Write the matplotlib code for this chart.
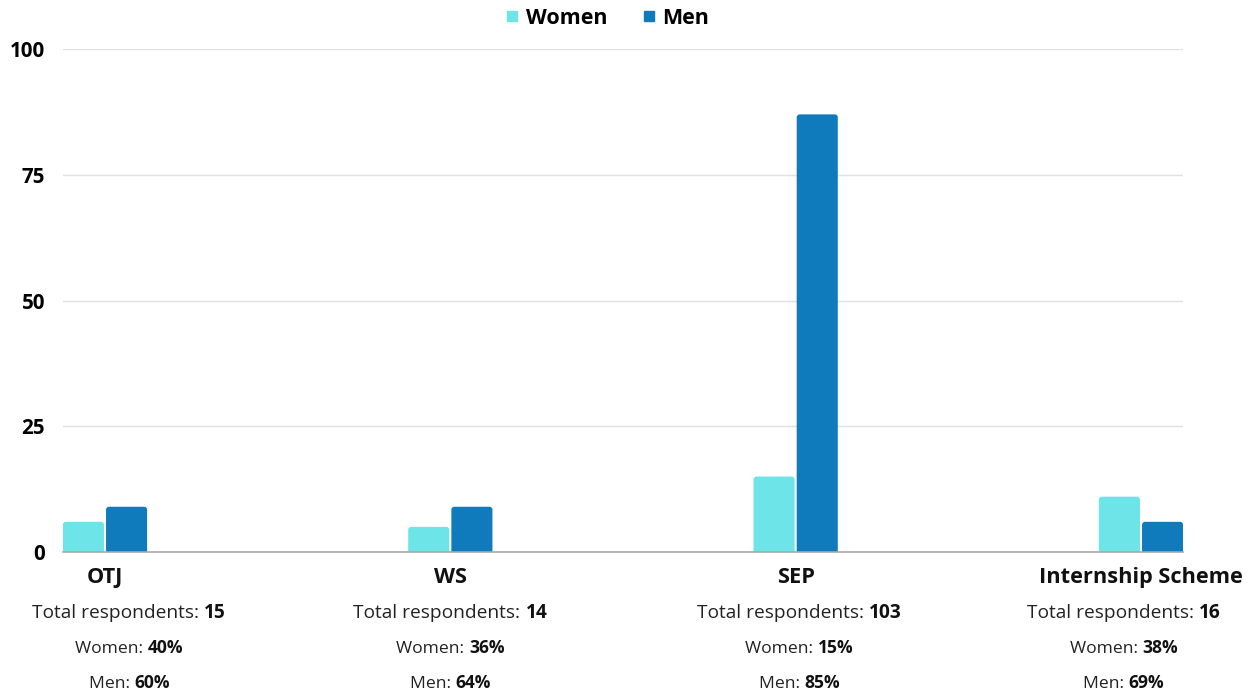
import numpy as np
import matplotlib
matplotlib.use("Agg")
import matplotlib.pyplot as plt
from matplotlib.lines import Line2D
from matplotlib.patches import FancyBboxPatch
from matplotlib.offsetbox import TextArea, HPacker, AnnotationBbox

plt.rcParams['font.family'] = ['Open Sans', 'DejaVu Sans']

# programme data
programmes = ['OTJ', 'WS', 'SEP', 'Internship Scheme']
women = [6, 5, 15, 11]
men = [9, 9, 87, 6]
total_respondents = ['15', '14', '103', '16']
women_pct = ['40%', '36%', '15%', '38%']
men_pct = ['60%', '64%', '85%', '69%']

c_women = '#6ce4e8'
c_men = '#0f7bbd'

fig = plt.figure(figsize=(12.53, 6.94), dpi=100)
ax = fig.add_axes([0.0503, 0.2046, 0.8938, 0.7248])

ax.set_xlim(-0.1215, 3.1215)
ax.set_ylim(0, 100)

x = np.arange(len(programmes))
w = 0.119
off = 0.0625

# px per data unit, used to keep the corner rounding circular
bbox = ax.get_position()
px_x = bbox.width * fig.get_figwidth() * fig.dpi / 3.243
px_y = bbox.height * fig.get_figheight() * fig.dpi / 100
radius = 3 / px_x
aspect = px_x / px_y


def rounded_bars(xs, heights, color):
    for xc, h in zip(xs, heights):
        # start a bit below zero so only the top corners show rounded
        p = FancyBboxPatch((xc - w / 2, -2), w, h + 2,
                           boxstyle=f"round,pad=0,rounding_size={radius}",
                           mutation_aspect=aspect, facecolor=color,
                           edgecolor='none', zorder=3)
        ax.add_patch(p)


rounded_bars(x - off, women, c_women)
rounded_bars(x + off, men, c_men)

ax.set_yticks([0, 25, 50, 75, 100])
ax.tick_params(axis='y', length=0, pad=13, labelsize=14.8)
for lbl in ax.get_yticklabels():
    lbl.set_fontweight('bold')
ax.set_xticks([])
ax.grid(axis='y', color='#e0e0e0', linewidth=1, zorder=0)
for s in ['top', 'right', 'left']:
    ax.spines[s].set_visible(False)
ax.spines['bottom'].set_color('#a8a8a8')
ax.spines['bottom'].set_linewidth(1.2)
ax.spines['bottom'].set_zorder(4)

trans = ax.get_xaxis_transform()

# detail lines are nudged inwards at the edges so they stay inside the figure
detail_shift = [0.07, 0.0, 0.01, -0.05]


def mixed_label(xpos, ypos, plain, bold, size):
    parts = [TextArea(plain, textprops=dict(fontsize=size, color='#222222')),
             TextArea(bold, textprops=dict(fontsize=size, color='#111111', fontweight='bold'))]
    box = HPacker(children=parts, align='baseline', pad=0, sep=0)
    ab = AnnotationBbox(box, (xpos, ypos), xycoords=trans, frameon=False,
                        box_alignment=(0.5, 0.5), annotation_clip=False)
    ax.add_artist(ab)


for i, name in enumerate(programmes):
    ax.text(i, -0.05, name, transform=trans, ha='center', va='center',
            fontsize=15.7, fontweight='bold', color='#111111')
    xd = i + detail_shift[i]
    mixed_label(xd, -0.121, 'Total respondents: ', total_respondents[i], 13.8)
    mixed_label(xd, -0.191, 'Women: ', women_pct[i], 12.6)
    mixed_label(xd, -0.261, 'Men: ', men_pct[i], 12.6)

handles = [Line2D([], [], marker='s', linestyle='none', markersize=7.5, color=c_women),
           Line2D([], [], marker='s', linestyle='none', markersize=7.5, color=c_men)]
fig.legend(handles, ['Women', 'Men'], loc='center', bbox_to_anchor=(0.484, 0.974),
           ncol=2, frameon=False, prop={'weight': 'bold', 'size': 15.5},
           handletextpad=0.25, columnspacing=1.5, handlelength=0.8)

fig.savefig('out.png', dpi=100, facecolor='white')
